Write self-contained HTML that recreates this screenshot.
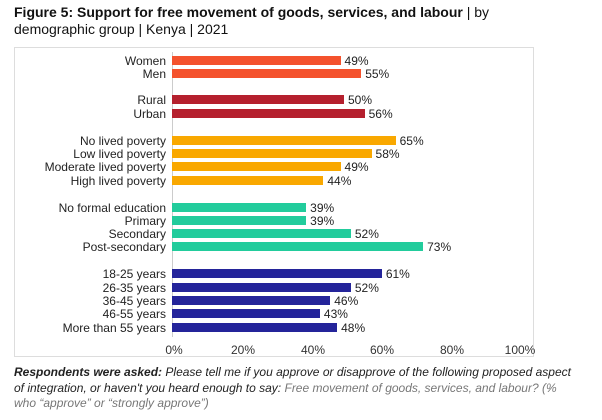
<!DOCTYPE html>
<html><head><style>
body{margin:0;width:602px;height:420px;background:#fff;font-family:"Liberation Sans",sans-serif;position:relative;overflow:hidden}
.t{position:absolute;left:14px;top:4px;font-size:14px;color:#111;line-height:17px}
.box{position:absolute;left:14px;top:47px;width:518px;height:308px;border:1px solid #ddd}
.l{position:absolute;right:436px;font-size:12px;color:#222;white-space:nowrap;line-height:12px}
.b{position:absolute;left:172px;height:9px}
.v{position:absolute;font-size:12px;color:#222;line-height:12px}
.x{position:absolute;top:343px;font-size:12px;color:#333;transform:translateX(-50%)}
.f{position:absolute;left:14px;top:365px;font-size:12px;line-height:15.5px;font-style:italic;color:#222;white-space:nowrap}
</style></head><body>
<div class="t"><b>Figure 5: Support for free movement of goods, services, and labour</b> | by<br>demographic group | Kenya | 2021</div>
<div class="box"></div>
<div style="position:absolute;left:172px;top:52px;width:1px;height:285px;background:#ccc"></div>
<div id="c"></div>
<div class="x" style="left:174px">0%</div><div class="x" style="left:243px">20%</div><div class="x" style="left:313px">40%</div><div class="x" style="left:382px">60%</div><div class="x" style="left:452px">80%</div><div class="x" style="left:520px">100%</div>
<div class="f"><b>Respondents were asked:</b> Please tell me if you approve or disapprove of the following proposed aspect<br>of integration, or haven't you heard enough to say: <span style="color:#777">Free movement of goods, services, and labour? (%<br>who “approve” or “strongly approve”)</span></div>
<script>
var d=[["Women",49,60,"#F4522D"],["Men",55,73,"#F4522D"],["Rural",50,99,"#B5202E"],["Urban",56,113,"#B5202E"],["No lived poverty",65,140,"#F9A800"],["Low lived poverty",58,153,"#F9A800"],["Moderate lived poverty",49,166,"#F9A800"],["High lived poverty",44,180,"#F9A800"],["No formal education",39,207,"#22CC9C"],["Primary",39,220,"#22CC9C"],["Secondary",52,233,"#22CC9C"],["Post-secondary",73,246,"#22CC9C"],["18-25 years",61,273,"#24249A"],["26-35 years",52,287,"#24249A"],["36-45 years",46,300,"#24249A"],["46-55 years",43,313,"#24249A"],["More than 55 years",48,327,"#24249A"]];
var h="";d.forEach(function(r){var w=r[1]*3.44;
h+='<div class="l" style="top:'+(r[2]-5)+'px">'+r[0]+'</div><div class="b" style="top:'+(r[2]-4.5)+'px;width:'+w+'px;background:'+r[3]+'"></div><div class="v" style="top:'+(r[2]-5)+'px;left:'+(172+w+4)+'px">'+r[1]+'%</div>';});
document.getElementById("c").innerHTML=h;
</script>
</body></html>
